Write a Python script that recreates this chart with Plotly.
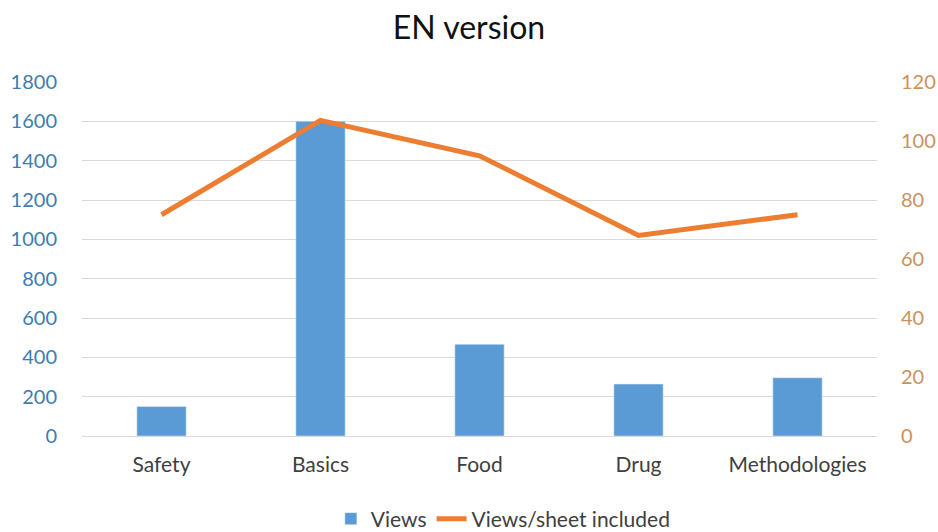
import plotly.graph_objects as go

categories = ["Safety", "Basics", "Food", "Drug", "Methodologies"]
views = [150, 1600, 466, 264, 296]
views_per_sheet = [75, 107, 95, 68, 75]
left_ticks = [0, 200, 400, 600, 800, 1000, 1200, 1400, 1600, 1800]
right_ticks = [0, 20, 40, 60, 80, 100, 120]

font_family = "Lato, 'Open Sans', sans-serif"

fig = go.Figure()
fig.add_trace(go.Bar(x=categories, y=views, name="Views", marker_color="#5B9BD5",
                     width=0.31, yaxis="y"))
fig.add_trace(go.Scatter(x=categories, y=views_per_sheet, name="Views/sheet included",
                         mode="lines", line=dict(color="#ED7D31", width=5), yaxis="y2"))

fig.update_layout(
    width=938, height=532,
    margin=dict(l=82, r=61, t=82, b=96),
    paper_bgcolor="white", plot_bgcolor="white",
    font=dict(family=font_family, size=20, color="#404040"),
    title=dict(text="EN version", x=0.5, xanchor="center", y=1 - 28 / 532, yanchor="middle",
               font=dict(size=32, color="#111111")),
    xaxis=dict(showgrid=False, showline=True, linecolor="#d9d9d9", ticks="",
               tickfont=dict(size=21, color="#404040"), ticklabelstandoff=10,
               automargin=False),
    yaxis=dict(range=[0, 1800], tickvals=left_ticks, showgrid=True, gridcolor="#d9d9d9",
               gridwidth=1, zeroline=False, showline=False, ticks="",
               tickfont=dict(size=20, color="#3D7EB0"), ticklabelstandoff=24,
               automargin=False),
    yaxis2=dict(range=[0, 120], tickvals=right_ticks, overlaying="y", side="right",
                showgrid=False, zeroline=False, showline=False, ticks="",
                tickfont=dict(size=20, color="#C9925F"), ticklabelstandoff=23,
                automargin=False),
    legend=dict(orientation="h", x=0.53, xanchor="center", yref="container",
                y=13 / 532, yanchor="middle", font=dict(size=21, color="#404040")),
    showlegend=True,
)

fig.write_html("out.html", config={"displayModeBar": False},
               post_script="document.body.style.margin='0';document.body.style.overflow='hidden';")
